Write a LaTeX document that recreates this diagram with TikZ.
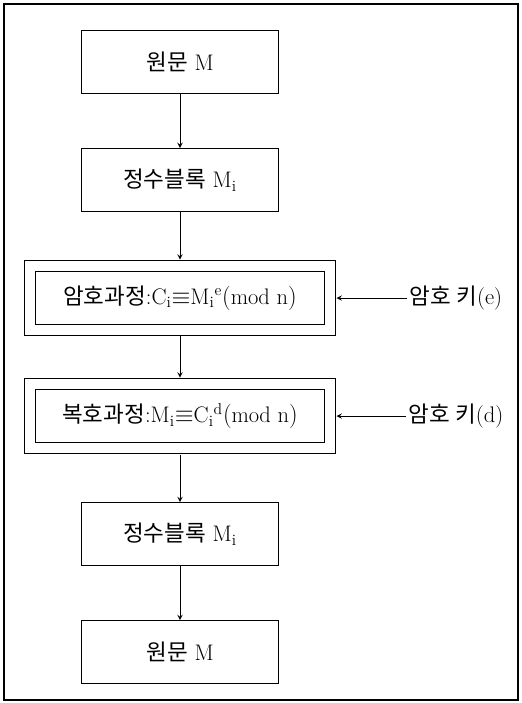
\documentclass[tikz,border=0pt]{standalone}
\usepackage{fontspec}
\newfontfamily\kr{Noto Sans CJK KR}
\tikzset{
  flowtext/.style={font=\fontsize{16}{18}\selectfont},
  stepbox/.style={flowtext, draw, line width=0.8pt, minimum width=4.92cm, minimum height=1.57cm},
  cryptbox/.style={flowtext, draw, line width=0.8pt, double, double distance=0.25cm,
    minimum width=7.5cm, minimum height=1.6cm, outer sep=0.16cm, inner sep=1pt},
  keytext/.style={flowtext, inner sep=2pt}
}
\begin{document}
\begin{tikzpicture}[x=0.025cm, y=-0.025cm, node distance=2.95cm, >=stealth]
\useasboundingbox (0,0) rectangle (521,703);
\draw[line width=1pt] (4,4) rectangle (518,700);

\node[stepbox] (plain) at (180,62) {{\kr 원문} M};
\node[stepbox, below of=plain] (block) {{\kr 정수블록} $\mathrm{M_i}$};
\node[cryptbox, below of=block] (enc) {{\kr 암호과정}:$\mathrm{C_i{\equiv}M_i{}^e(mod\ n)}$};
\node[cryptbox, below of=enc] (dec) {{\kr 복호과정}:$\mathrm{M_i{\equiv}C_i{}^d(mod\ n)}$};
\node[stepbox, below of=dec] (block2) {{\kr 정수블록} $\mathrm{M_i}$};
\node[stepbox, below of=block2] (plain2) {{\kr 원문} M};

\node[keytext, right of=enc, node distance=6.9cm] (ekey) {{\kr 암호 키}(e)};
\node[keytext, right of=dec, node distance=6.9cm] (dkey) {{\kr 암호 키}(d)};

\draw[->, line width=0.7pt] (plain) -- (block);
\draw[->, line width=0.7pt] (block) -- (enc);
\draw[->, line width=0.7pt] (enc) -- (dec);
\draw[->, line width=0.7pt] (dec) -- (block2);
\draw[->, line width=0.7pt] (block2) -- (plain2);
\draw[->, line width=0.7pt] (ekey) -- (enc);
\draw[->, line width=0.7pt] (dkey) -- (dec);
\end{tikzpicture}
\end{document}
